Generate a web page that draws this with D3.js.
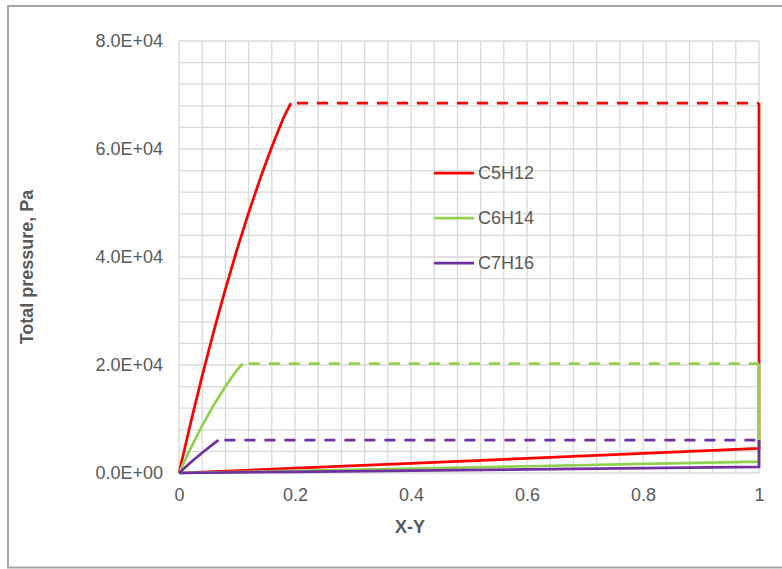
<!DOCTYPE html>
<html>
<head>
<meta charset="utf-8">
<script src="https://cdn.jsdelivr.net/npm/d3@7"></script>
<style>
  html, body { margin: 0; padding: 0; background: #ffffff; }
  svg { display: block; font-family: "Liberation Sans", Arial, sans-serif; }
</style>
</head>
<body>
<svg id="chart" width="782" height="569"></svg>
<script>
// ---------- data ----------
const seriesNames = ["C5H12", "C6H14", "C7H16"];
const seriesColors = ["#ff0000", "#92d050", "#7030a0"];

// rising (solid) branch: [x, pressure]
const c5h12Rise = [[0, 0], [0.02, 9240], [0.04, 17990], [0.06, 26270], [0.08, 34050], [0.10, 41360],
                   [0.12, 48180], [0.14, 54520], [0.16, 60380], [0.18, 65750], [0.193, 68500]];
const c6h14Rise = [[0, 0], [0.02, 4580], [0.04, 8770], [0.06, 12590], [0.08, 16020], [0.10, 19070], [0.110, 20250]];
const c7h16Rise = [[0, 0], [0.02, 1950], [0.04, 3750], [0.06, 5450], [0.068, 6100]];

// plateau (dashed) pressure
const c5h12Plateau = 68500;
const c6h14Plateau = 20250;
const c7h16Plateau = 6100;

// lower (solid) branch: [x, pressure]
const c5h12Low = [[0, 0], [0.2, 880], [0.4, 1800], [0.6, 2720], [0.8, 3630], [1, 4550]];
const c6h14Low = [[0, 0], [0.2, 400], [0.4, 820], [0.6, 1250], [0.8, 1670], [1, 2100]];
const c7h16Low = [[0, 0], [0.2, 220], [0.4, 450], [0.6, 680], [0.8, 910], [1, 1150]];

const xTicks = [0, 0.2, 0.4, 0.6, 0.8, 1];
const xTickLabels = ["0", "0.2", "0.4", "0.6", "0.8", "1"];
const yTicks = [0, 20000, 40000, 60000, 80000];
const yTickLabels = ["0.0E+00", "2.0E+04", "4.0E+04", "6.0E+04", "8.0E+04"];

const xTitle = "X-Y";
const yTitle = "Total pressure, Pa";

// ---------- layout ----------
const svg = d3.select("#chart");
const plotLeft = 179, plotRight = 759, plotTop = 41, plotBottom = 473;
const x = d3.scaleLinear().domain([0, 1]).range([plotLeft, plotRight]);
const y = d3.scaleLinear().domain([0, 80000]).range([plotBottom, plotTop]);

const textColor = "#595959";
const gridColor = "#d9d9d9";

svg.append("rect").attr("width", 782).attr("height", 569).attr("fill", "#ffffff");

// outer frame
svg.append("path")
  .attr("d", "M784,6 L8,6 L8,567.5 L784,567.5")
  .attr("fill", "none").attr("stroke", "#a6a6a6").attr("stroke-width", 2);

// grid
const grid = svg.append("g");
grid.selectAll("line.v").data(d3.range(0, 26)).join("line")
  .attr("class", "v")
  .attr("x1", i => x(i * 0.04)).attr("x2", i => x(i * 0.04))
  .attr("y1", y(0)).attr("y2", y(80000))
  .attr("stroke", gridColor).attr("stroke-width", 1.3);
grid.selectAll("line.h").data(d3.range(0, 21)).join("line")
  .attr("class", "h")
  .attr("y1", i => y(i * 4000)).attr("y2", i => y(i * 4000))
  .attr("x1", x(0)).attr("x2", x(1))
  .attr("stroke", gridColor).attr("stroke-width", 1.3);

// axes (labels)
const xAxis = d3.axisBottom(x).tickValues(xTicks)
  .tickFormat((d, i) => xTickLabels[i]).tickSize(0).tickPadding(15);
const gx = svg.append("g").attr("transform", `translate(0,${plotBottom})`).call(xAxis);
gx.select(".domain").remove();
gx.selectAll("text").attr("fill", textColor).style("font-size", "18px")
  .style("font-family", "'Liberation Sans', Arial, sans-serif");

const yAxis = d3.axisLeft(y).tickValues(yTicks)
  .tickFormat((d, i) => yTickLabels[i]).tickSize(0).tickPadding(16);
const gy = svg.append("g").attr("transform", `translate(${plotLeft},0)`).call(yAxis);
gy.select(".domain").remove();
gy.selectAll("text").attr("fill", textColor).style("font-size", "18px")
  .style("font-family", "'Liberation Sans', Arial, sans-serif");

// axis titles
svg.append("text").attr("x", 410).attr("y", 533).attr("text-anchor", "middle")
  .attr("fill", textColor).style("font-size", "18px").style("font-weight", "bold")
  .text(xTitle);
svg.append("text").attr("transform", "translate(33,267) rotate(-90)").attr("text-anchor", "middle")
  .attr("fill", textColor).style("font-size", "18px").style("font-weight", "bold")
  .text(yTitle);

// series
const line = d3.line().x(d => x(d[0])).y(d => y(d[1]));
const rises = [c5h12Rise, c6h14Rise, c7h16Rise];
const plateaus = [c5h12Plateau, c6h14Plateau, c7h16Plateau];
const lows = [c5h12Low, c6h14Low, c7h16Low];
const lw = 2.75;

seriesNames.forEach((name, i) => {
  const g = svg.append("g");
  const rise = rises[i];
  const corner = rise[rise.length - 1];
  g.append("path").attr("d", line(rise)).attr("fill", "none")
    .attr("stroke", seriesColors[i]).attr("stroke-width", lw).attr("stroke-linejoin", "round");
  g.append("path").attr("d", line([[corner[0], plateaus[i]], [1, plateaus[i]]])).attr("fill", "none")
    .attr("stroke", seriesColors[i]).attr("stroke-width", lw).attr("stroke-dasharray", "11,9")
    .attr("stroke-dashoffset", -6);
  const low = lows[i];
  g.append("path").attr("d", line(low.concat([[1, plateaus[i]]]))).attr("fill", "none")
    .attr("stroke", seriesColors[i]).attr("stroke-width", lw).attr("stroke-linejoin", "miter");
});

// legend
const legendY = [173, 218, 263];
seriesNames.forEach((name, i) => {
  svg.append("line").attr("x1", 434).attr("x2", 474)
    .attr("y1", legendY[i]).attr("y2", legendY[i])
    .attr("stroke", seriesColors[i]).attr("stroke-width", lw);
  svg.append("text").attr("x", 478).attr("y", legendY[i]).attr("dy", "0.35em")
    .attr("fill", textColor).style("font-size", "18px").text(name);
});
</script>
</body>
</html>
